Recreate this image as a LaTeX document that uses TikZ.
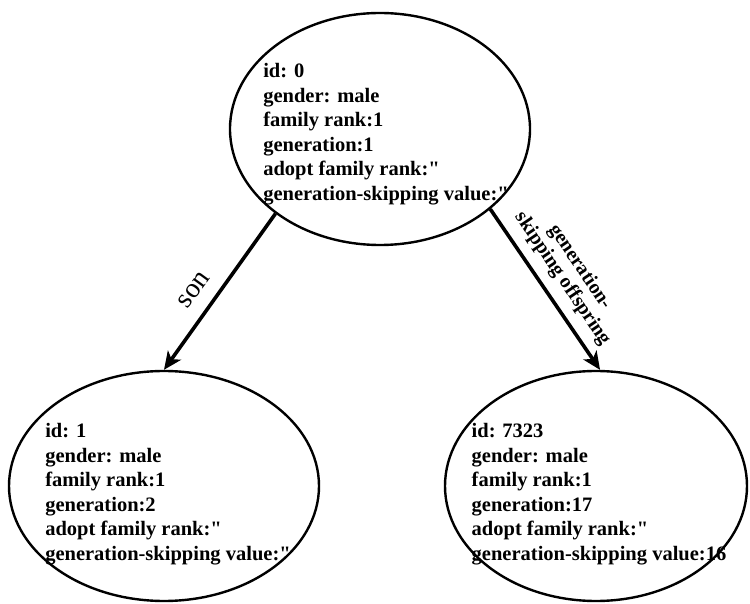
\documentclass[tikz,border=0pt]{standalone}
\usepackage{fontspec}
\setmainfont{Liberation Serif}
\usetikzlibrary{shapes.geometric,arrows.meta}
\begin{document}
\begin{tikzpicture}[x=1pt,y=1pt,
  person/.style={draw, ellipse, line width=2.4pt, inner sep=0pt},
  info/.style={align=left, font=\fontsize{20.5}{24.5}\selectfont\bfseries, inner sep=0pt},
  rel/.style={line width=3.6pt, -{Stealth[length=18pt,width=16pt,inset=5pt]}}]
\useasboundingbox (0,0) rectangle (750,603);
\node[person, minimum width=300pt, minimum height=232pt] (top) at (380,474) {};
\node[person, minimum width=310pt, minimum height=230pt] (left) at (164,117) {};
\node[person, minimum width=302pt, minimum height=230pt] (right) at (596,117) {};
\node[info] (ttop) at (386,469) {id: 0\\gender: male\\family rank:1\\generation:1\\adopt family rank:\textquotedbl\\generation-skipping value:\textquotedbl};
\node[info] (tleft) at (168,109) {id: 1\\gender: male\\family rank:1\\generation:2\\adopt family rank:\textquotedbl\\generation-skipping value:\textquotedbl};
\node[info] (tright) at (599,109) {id: 7323\\gender: male\\family rank:1\\generation:17\\adopt family rank:\textquotedbl\\generation-skipping value:16};
\draw[rel] (top.219) -- (left.north);
\draw[rel] (top.324) -- (right.88);
\node[rotate=54, font=\fontsize{28}{28}\selectfont] (lson) at (194,313) {son};
\node[rotate=-56, align=center, font=\fontsize{20}{21}\selectfont\bfseries] (lgen) at (571,330) {generation-\\skipping offspring};
\end{tikzpicture}
\end{document}
